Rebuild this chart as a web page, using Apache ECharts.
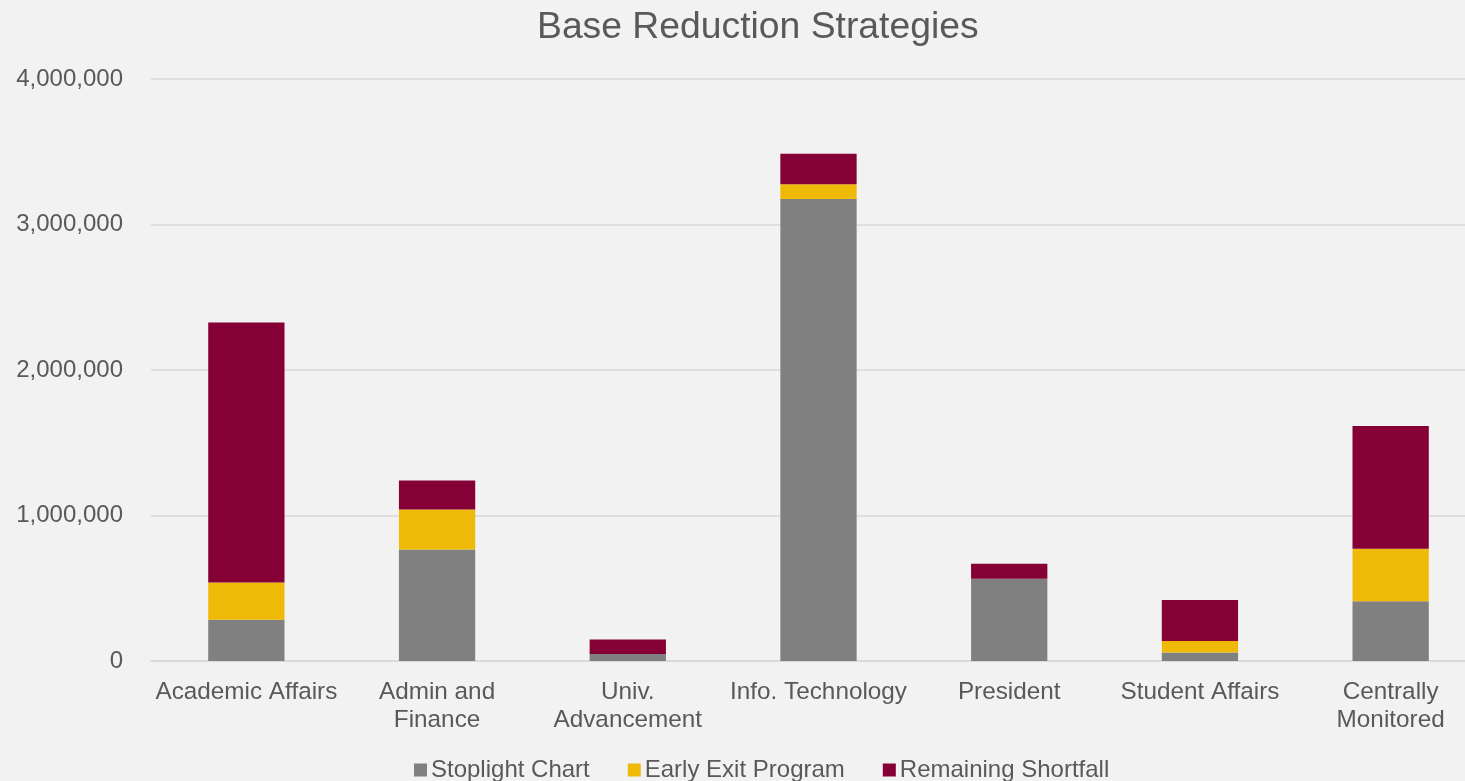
<!DOCTYPE html>
<html>
<head>
<meta charset="utf-8">
<script src="https://cdn.jsdelivr.net/npm/echarts@6/dist/echarts.min.js"></script>
<style>
html,body{margin:0;padding:0;background:#F2F2F2;}
#c{width:1465px;height:781px;}
</style>
</head>
<body>
<div id="c"></div>
<script>
const categories = ['Academic Affairs', 'Admin and\nFinance', 'Univ.\nAdvancement', 'Info. Technology', 'President', 'Student Affairs', 'Centrally\nMonitored'];
const stoplight = [284000, 766000, 48000, 3175000, 566000, 59000, 410000];
const earlyExit = [255000, 275000, 0, 101000, 0, 79000, 361000];
const shortfall = [1787000, 200000, 99000, 211000, 102000, 282000, 844000];
const seriesNames = ['Stoplight Chart', 'Early Exit Program', 'Remaining Shortfall'];
const colors = ['#808080', '#EFB908', '#850034'];

const chart = echarts.init(document.getElementById('c'));
const font = 'Liberation Sans, Arial, sans-serif';
chart.setOption({
  backgroundColor: '#F2F2F2',
  title: {
    text: 'Base Reduction Strategies',
    left: 532, top: 4,
    textStyle: {fontFamily: font, fontSize: 37.3, fontWeight: 'normal', color: '#595959'}
  },
  legend: {
    bottom: -6, left: 409,
    itemWidth: 13, itemHeight: 13, itemGap: 38,
    icon: 'rect',
    textStyle: {fontFamily: font, fontSize: 24, color: '#595959', padding: [0,0,0,-1]},
    data: seriesNames
  },
  grid: {left: 151, right: -21, top: 79, bottom: 120, outerBoundsMode: 'none', containLabel: false},
  xAxis: {
    type: 'category', data: categories,
    axisLine: {lineStyle: {color: '#D9D9D9', width: 1.5}},
    axisTick: {show: false},
    axisLabel: {fontFamily: font, fontSize: 24.3, color: '#595959', margin: 17, lineHeight: 28, interval: 0}
  },
  yAxis: {
    type: 'value', min: 0, max: 4000000, interval: 1000000,
    axisLine: {show: false}, axisTick: {show: false},
    splitLine: {lineStyle: {color: '#D9D9D9', width: 1.5}},
    axisLabel: {fontFamily: font, fontSize: 24, color: '#595959', margin: 28,
      formatter: v => v.toLocaleString('en-US')}
  },
  series: [
    {name: seriesNames[0], type: 'bar', stack: 's', data: stoplight, barWidth: '40%', itemStyle: {color: colors[0]}},
    {name: seriesNames[1], type: 'bar', stack: 's', data: earlyExit, itemStyle: {color: colors[1]}},
    {name: seriesNames[2], type: 'bar', stack: 's', data: shortfall, itemStyle: {color: colors[2]}}
  ]
});
</script>
</body>
</html>
